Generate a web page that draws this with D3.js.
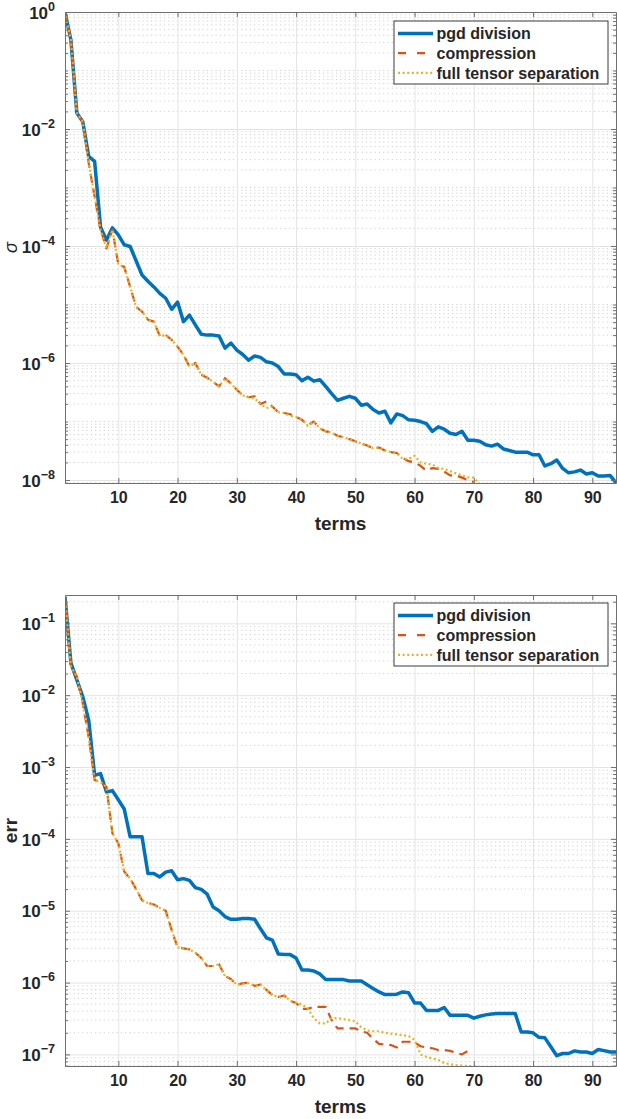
<!DOCTYPE html>
<html>
<head>
<meta charset="utf-8">
<script src="https://cdn.jsdelivr.net/npm/d3@7"></script>
<style>
  body { margin: 0; background: #fff; }
  text { font-family: "Liberation Sans", Arial, Helvetica, sans-serif; fill: #262626; }
</style>
</head>
<body>
<svg width="617" height="1119"></svg>
<script>
(function() {
  'use strict';

  // legend entries and colours (MATLAB default order)
  var seriesNames = ["pgd division", "compression", "full tensor separation"];
  var seriesColors = ["#0072BD", "#D95319", "#EDB120"];

  var xTicks = [10, 20, 30, 40, 50, 60, 70, 80, 90];
  var sigmaTickExps = [0, -2, -4, -6, -8];
  var errTickExps = [-1, -2, -3, -4, -5, -6, -7];

  // sigma per term (top panel)
  var sigmaPgd = [1, 0.33, 0.0187, 0.0133, 3.4e-3, 2.8e-3, 2.1e-4, 1.26e-4, 2.05e-4, 1.55e-4,
    1.05e-4, 9.8e-5, 5.6e-5, 3.2e-5, 2.5e-5, 2.0e-5, 1.55e-5, 1.28e-5, 8.3e-6, 1.1e-5,
    5.1e-6, 6.6e-6, 4.5e-6, 3.1e-6, 3.0e-6, 3.0e-6, 2.9e-6, 1.8e-6, 2.2e-6, 1.66e-6,
    1.4e-6, 1.12e-6, 1.32e-6, 1.25e-6, 1.05e-6, 1.0e-6, 8.7e-7, 6.5e-7, 6.5e-7, 6.3e-7,
    5.0e-7, 5.7e-7, 4.9e-7, 5.2e-7, 4.0e-7, 3.0e-7, 2.3e-7, 2.5e-7, 2.7e-7, 2.5e-7,
    1.9e-7, 2.0e-7, 1.6e-7, 1.4e-7, 1.5e-7, 9.5e-8, 1.35e-7, 1.26e-7, 1.07e-7, 1.05e-7,
    1.0e-7, 9.2e-8, 6.8e-8, 8.1e-8, 7.4e-8, 6.3e-8, 6.0e-8, 6.8e-8, 4.8e-8, 4.8e-8,
    4.6e-8, 4.0e-8, 3.8e-8, 4.1e-8, 3.4e-8, 3.2e-8, 3.0e-8, 3.0e-8, 3.0e-8, 2.7e-8,
    2.7e-8, 1.74e-8, 1.9e-8, 2.2e-8, 1.58e-8, 1.33e-8, 1.38e-8, 1.48e-8, 1.27e-8, 1.33e-8,
    1.17e-8, 1.17e-8, 1.2e-8, 9e-9];
  var sigmaCompression = [1, 0.33, 0.0187, 0.0133, 2.6e-3, 7e-4, 1.9e-4, 9.1e-5, 1.9e-4, 4.8e-5,
    4.4e-5, 2.0e-5, 9.1e-6, 7.6e-6, 5.5e-6, 5.1e-6, 2.9e-6, 3.0e-6, 2.5e-6, 1.9e-6,
    1.38e-6, 8.7e-7, 1.0e-6, 6.3e-7, 5.6e-7, 4.8e-7, 4.0e-7, 5.5e-7, 4.5e-7, 3.5e-7,
    2.8e-7, 2.6e-7, 2.7e-7, 2.0e-7, 2.2e-7, 1.8e-7, 1.45e-7, 1.4e-7, 1.33e-7, 1.2e-7,
    1.07e-7, 8.7e-8, 1.0e-7, 7.6e-8, 6.8e-8, 6.5e-8, 5.7e-8, 5.4e-8, 5.0e-8, 4.6e-8,
    4.2e-8, 3.9e-8, 3.5e-8, 3.6e-8, 3.2e-8, 3.0e-8, 2.9e-8, 2.4e-8, 2.1e-8, 2.0e-8,
    1.75e-8, 1.45e-8, 1.6e-8, 1.55e-8, 1.4e-8, 1.2e-8, 1.2e-8, 1.1e-8, 1.0e-8, 9.2e-9];
  var sigmaFull = [1, 0.33, 0.0187, 0.0133, 2.6e-3, 7e-4, 1.9e-4, 9.1e-5, 1.9e-4, 4.8e-5,
    4.4e-5, 2.0e-5, 9.1e-6, 7.6e-6, 5.5e-6, 5.1e-6, 2.9e-6, 3.0e-6, 2.5e-6, 1.9e-6,
    1.38e-6, 8.7e-7, 1.0e-6, 6.3e-7, 5.6e-7, 4.8e-7, 4.0e-7, 5.5e-7, 4.5e-7, 3.5e-7,
    2.8e-7, 2.6e-7, 2.5e-7, 2.0e-7, 1.7e-7, 1.8e-7, 1.45e-7, 1.4e-7, 1.25e-7, 1.2e-7,
    1.07e-7, 8.5e-8, 1.0e-7, 7.6e-8, 6.8e-8, 6.5e-8, 5.7e-8, 5.4e-8, 5.0e-8, 4.6e-8,
    4.2e-8, 3.9e-8, 3.5e-8, 3.6e-8, 3.2e-8, 3.0e-8, 2.9e-8, 2.3e-8, 2.3e-8, 2.6e-8,
    2.0e-8, 1.9e-8, 1.85e-8, 1.6e-8, 1.55e-8, 1.42e-8, 1.3e-8, 1.2e-8, 1.12e-8, 1.1e-8,
    8.5e-9];

  // err per term (bottom panel)
  var errPgd = [0.235, 0.028, 0.0163, 9.5e-3, 4.5e-3, 7.7e-4, 8.1e-4, 4.5e-4, 4.7e-4, 3.5e-4,
    2.6e-4, 1.07e-4, 1.07e-4, 1.07e-4, 3.3e-5, 3.3e-5, 2.95e-5, 3.45e-5, 3.6e-5, 2.7e-5,
    2.8e-5, 2.65e-5, 2.1e-5, 1.98e-5, 1.7e-5, 1.13e-5, 1.0e-5, 8.3e-6, 7.6e-6, 7.6e-6,
    7.8e-6, 7.8e-6, 7.6e-6, 5.6e-6, 4.2e-6, 3.9e-6, 2.5e-6, 2.45e-6, 2.45e-6, 2.2e-6,
    1.5e-6, 1.5e-6, 1.45e-6, 1.32e-6, 1.1e-6, 1.1e-6, 1.1e-6, 1.1e-6, 1.05e-6, 1.05e-6,
    1.05e-6, 9.3e-7, 8.3e-7, 7.4e-7, 6.8e-7, 6.8e-7, 6.9e-7, 7.4e-7, 7.2e-7, 5.2e-7,
    5.2e-7, 4.1e-7, 4.1e-7, 4.1e-7, 4.5e-7, 3.5e-7, 3.5e-7, 3.5e-7, 3.5e-7, 3.2e-7,
    3.4e-7, 3.55e-7, 3.65e-7, 3.7e-7, 3.7e-7, 3.7e-7, 3.7e-7, 2.05e-7, 2.05e-7, 2.0e-7,
    1.73e-7, 1.7e-7, 1.28e-7, 9.6e-8, 1.03e-7, 1.03e-7, 1.12e-7, 1.08e-7, 1.08e-7, 1.03e-7,
    1.17e-7, 1.13e-7, 1.08e-7, 1.08e-7];
  var errCompression = [0.235, 0.025, 0.018, 7.7e-3, 2.6e-3, 6.6e-4, 6.2e-4, 5.3e-4, 1.2e-4, 8.7e-5,
    3.5e-5, 2.8e-5, 2.0e-5, 1.4e-5, 1.28e-5, 1.22e-5, 1.1e-5, 1.0e-5, 5.4e-6, 3.1e-6,
    3.0e-6, 2.9e-6, 2.6e-6, 2.2e-6, 1.7e-6, 1.7e-6, 1.8e-6, 1.23e-6, 1.12e-6, 9.3e-7,
    9.8e-7, 1.0e-6, 9.0e-7, 9.4e-7, 7.9e-7, 6.7e-7, 6.3e-7, 6.6e-7, 5.6e-7, 5.2e-7,
    4.3e-7, 4.3e-7, 4.6e-7, 4.6e-7, 4.6e-7, 3.0e-7, 2.3e-7, 2.3e-7, 2.3e-7, 2.3e-7,
    2.1e-7, 2.0e-7, 1.65e-7, 1.4e-7, 1.38e-7, 1.35e-7, 1.25e-7, 1.5e-7, 1.5e-7, 1.48e-7,
    1.3e-7, 1.25e-7, 1.22e-7, 1.15e-7, 1.15e-7, 1.12e-7, 1.05e-7, 1.0e-7, 1.12e-7];
  var errFull = [0.235, 0.025, 0.018, 7.7e-3, 2.6e-3, 6.6e-4, 6.2e-4, 5.3e-4, 1.2e-4, 8.7e-5,
    3.5e-5, 2.8e-5, 2.0e-5, 1.4e-5, 1.28e-5, 1.22e-5, 1.1e-5, 1.0e-5, 5.4e-6, 3.1e-6,
    3.0e-6, 2.9e-6, 2.6e-6, 2.2e-6, 1.7e-6, 1.7e-6, 1.8e-6, 1.23e-6, 1.12e-6, 9.3e-7,
    9.6e-7, 9.8e-7, 9.0e-7, 9.4e-7, 7.9e-7, 6.7e-7, 6.3e-7, 6.6e-7, 5.6e-7, 5.2e-7,
    5.0e-7, 4.3e-7, 3.2e-7, 2.7e-7, 2.7e-7, 3.2e-7, 3.2e-7, 3.1e-7, 3.0e-7, 2.9e-7,
    2.4e-7, 2.15e-7, 2.1e-7, 2.1e-7, 2.0e-7, 1.95e-7, 1.9e-7, 1.85e-7, 1.8e-7, 1.6e-7,
    1.0e-7, 9.2e-8, 8.8e-8, 8.4e-8, 7.6e-8, 7.3e-8, 7.1e-8, 7.0e-8, 6.9e-8, 6.9e-8,
    6.5e-8];

  var svg = d3.select("svg");
  var left = 65, right = 616;

  var x = d3.scaleLinear().domain([1, 94]).range([left, right]);

  var lineStyles = [
    { width: 3.5, dash: null },
    { width: 2.2, dash: "9,6" },
    { width: 2.2, dash: "2,2.6" }
  ];

  function minorValues(domain, majors) {
    var out = [];
    var lo = Math.floor(Math.log10(domain[0])), hi = Math.ceil(Math.log10(domain[1]));
    for (var e = lo; e <= hi; e++) {
      for (var k = 1; k <= 9; k++) {
        var v = k * Math.pow(10, e);
        if (k === 1 && majors.indexOf(e) >= 0) continue;
        if (v >= domain[0] && v <= domain[1] * 1.0001) out.push(v);
      }
    }
    return out;
  }

  function drawPanel(p, idx) {
    var y = d3.scaleLog().domain(p.yDomain).range([p.bottom, p.top]);
    var g = svg.append("g");
    var majorVals = p.exps.map(function(e) { return Math.pow(10, e); });
    var minorVals = minorValues(p.yDomain, p.exps);

    // minor grid (dotted)
    g.append("g").selectAll("line").data(minorVals).enter().append("line")
      .attr("x1", left).attr("x2", right)
      .attr("y1", function(d) { return y(d); }).attr("y2", function(d) { return y(d); })
      .attr("stroke", "#d0d0d0").attr("stroke-width", 1)
      .attr("stroke-dasharray", "1.2,3.1");

    // major grid
    g.append("g").call(d3.axisLeft(y).tickValues(majorVals).tickSize(-(right - left)).tickFormat(""))
      .attr("transform", "translate(" + left + ",0)")
      .call(function(a) {
        a.select(".domain").remove();
        a.selectAll("line").attr("stroke", "#e4e4e4");
      });
    g.append("g").call(d3.axisBottom(x).tickValues(xTicks).tickSize(-(p.bottom - p.top)).tickFormat(""))
      .attr("transform", "translate(0," + p.bottom + ")")
      .call(function(a) {
        a.select(".domain").remove();
        a.selectAll("line").attr("stroke", "#e4e4e4");
      });

    // data lines
    var clipId = "clip" + idx;
    svg.append("clipPath").attr("id", clipId).append("rect")
      .attr("x", left).attr("y", p.top).attr("width", right - left).attr("height", p.bottom - p.top);
    var line = d3.line()
      .x(function(d, i) { return x(i + 1); })
      .y(function(d) { return y(d); });
    p.series.forEach(function(s, i) {
      g.append("path")
        .datum(s)
        .attr("clip-path", "url(#" + clipId + ")")
        .attr("fill", "none")
        .attr("stroke", seriesColors[i])
        .attr("stroke-width", lineStyles[i].width)
        .attr("stroke-dasharray", lineStyles[i].dash)
        .attr("stroke-linejoin", "round")
        .attr("d", line);
    });

    // axes box with inward ticks
    var axisColor = "#6f6f6f";
    function styleAxis(a) {
      a.select(".domain").attr("stroke", axisColor);
      a.selectAll(".tick line").attr("stroke", axisColor);
    }
    g.append("g").attr("transform", "translate(0," + p.bottom + ")")
      .call(d3.axisBottom(x).tickValues(xTicks).tickSizeInner(-5).tickSizeOuter(0).tickPadding(9))
      .call(styleAxis)
      .call(function(a) {
        a.selectAll(".tick text").attr("font-size", 16).attr("font-weight", "bold")
          .attr("fill", "#262626").attr("dy", "0.71em");
      });
    g.append("g").attr("transform", "translate(0," + p.top + ")")
      .call(d3.axisTop(x).tickValues(xTicks).tickSizeInner(-5).tickSizeOuter(0).tickFormat(""))
      .call(styleAxis);

    var yl = g.append("g").attr("transform", "translate(" + left + ",0)")
      .call(d3.axisLeft(y).tickValues(majorVals).tickSizeInner(-5).tickSizeOuter(0).tickPadding(10))
      .call(styleAxis);
    yl.selectAll(".tick text").each(function(d) {
      var t = d3.select(this).text(null)
        .attr("font-size", 17).attr("font-weight", "bold").attr("fill", "#262626").attr("dy", "0.36em");
      t.append("tspan").text("10");
      t.append("tspan").attr("font-size", 12.5).attr("dy", "-0.62em")
        .text(String(Math.round(Math.log10(d))).replace("-", "\u2212"));
    });
    g.append("g").attr("transform", "translate(" + left + ",0)")
      .call(d3.axisLeft(y).tickValues(minorVals).tickSize(-3).tickFormat(""))
      .call(styleAxis).call(function(a) { a.select(".domain").remove(); });

    g.append("g").attr("transform", "translate(" + right + ",0)")
      .call(d3.axisRight(y).tickValues(majorVals).tickSizeInner(-5).tickSizeOuter(0).tickFormat(""))
      .call(styleAxis);
    g.append("g").attr("transform", "translate(" + right + ",0)")
      .call(d3.axisRight(y).tickValues(minorVals).tickSize(-3).tickFormat(""))
      .call(styleAxis).call(function(a) { a.select(".domain").remove(); });

    // axis labels
    g.append("text")
      .attr("x", (left + right) / 2).attr("y", p.bottom + 47)
      .attr("text-anchor", "middle").attr("font-size", 19).attr("font-weight", "bold")
      .text("terms");
    g.append("text")
      .attr("transform", "translate(17," + (p.top + p.bottom) / 2 + ") rotate(-90)")
      .attr("text-anchor", "middle")
      .attr("font-size", p.labelSize).attr("font-weight", p.labelWeight)
      .attr("font-style", p.labelStyle)
      .text(p.label);

    // legend
    var lg = g.append("g").attr("transform", "translate(394," + p.legendTop + ")");
    lg.append("rect").attr("width", 214).attr("height", 63)
      .attr("fill", "#fff").attr("stroke", "#3a3a3a").attr("stroke-width", 1);
    seriesNames.forEach(function(name, i) {
      var ry = 12.5 + i * 19.7;
      lg.append("line")
        .attr("x1", 4).attr("x2", 39).attr("y1", ry).attr("y2", ry)
        .attr("stroke", seriesColors[i])
        .attr("stroke-width", lineStyles[i].width)
        .attr("stroke-dasharray", i === 1 ? "8,11" : lineStyles[i].dash);
      lg.append("text")
        .attr("x", 42.5).attr("y", ry).attr("dy", "0.35em")
        .attr("font-size", 16).attr("font-weight", "bold")
        .text(name);
    });
  }

  drawPanel({
    top: 12, bottom: 483, yDomain: [8.9e-9, 1], exps: sigmaTickExps,
    series: [sigmaPgd, sigmaCompression, sigmaFull],
    label: "\u03c3", labelSize: 18, labelWeight: "normal", labelStyle: "italic",
    legendTop: 21
  }, 0);

  drawPanel({
    top: 595, bottom: 1066, yDomain: [6.9e-8, 0.248], exps: errTickExps,
    series: [errPgd, errCompression, errFull],
    label: "err", labelSize: 19, labelWeight: "bold", labelStyle: "normal",
    legendTop: 603
  }, 1);
}());
</script>
</body>
</html>
